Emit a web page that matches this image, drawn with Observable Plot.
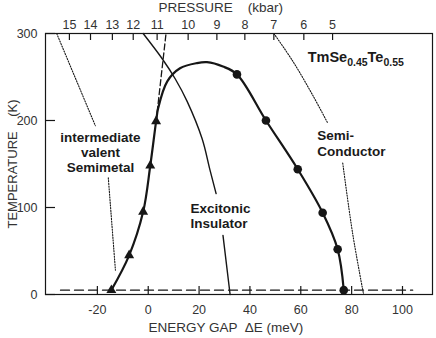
<!DOCTYPE html>
<html>
<head>
<meta charset="utf-8">
<script src="https://cdn.jsdelivr.net/npm/d3@7"></script>
<script src="https://cdn.jsdelivr.net/npm/@observablehq/plot@0.6"></script>
<style>
  html, body { margin: 0; padding: 0; background: #fff; }
  #chart svg { display: block; }
</style>
</head>
<body>
<div id="chart"></div>
<script>
// ---- data ----
// energy-gap axis (bottom) ticks
const gapTicks = [-20, 0, 20, 40, 60, 80, 100];
// temperature axis ticks
const tempTicks = [0, 100, 200, 300];
// pressure axis (top): labels and their position on the energy-gap scale
const pressureLabels = ["15", "14", "13", "12", "11", "10", "9", "8", "7", "6", "5"];
const pressureAtGap = [-31, -22.7, -14.1, -5.9, 3.5, 15.7, 27, 38, 49.4, 61.2, 72.5];

// measured points: triangles (semimetal side) and circles (semiconductor side)
const triangleGap = [-14.5, -7.5, -2, 0.8, 3.1];
const triangleTemp = [5, 45, 95, 148, 199];
const circleGap = [34.9, 46.3, 58.8, 68.6, 74.5, 76.9];
const circleTemp = [253, 200, 144, 94, 52, 5];

// excitonic-insulator dome (thick solid curve), through the points
const domeGap = [-14.5, -7.5, -2, 0.8, 3.1, 3.9, 7.5, 12.5, 19.2, 23.1, 29.4, 34.9, 46.3, 58.8, 68.6, 74.5, 76.9];
const domeTemp = [5, 45, 95, 148, 199, 214, 245, 260, 266, 267, 262, 253, 200, 144, 94, 52, 5];

// thin solid boundary (broken behind the "Excitonic Insulator" label)
const thinGap = [-2, 5.5, 10.6, 15.3, 21.2, 24.3, 26.7, 29.4, 32.2];
const thinTemp = [300, 271, 248, 222, 179, 143, 116, 68, 0];
const thinPart = [1, 1, 1, 1, 1, 1, 1, 2, 2];

// steep dashed extension above the triangles
const steepGap = [3.1, 7];
const steepTemp = [199, 300];

// dotted boundaries (broken behind labels)
const leftDotGap = [-36, -20.8, -15.7, -12.9];
const leftDotTemp = [300, 194, 134, 28];
const leftDotPart = [1, 1, 2, 2];
const rightDotGap = [49.4, 56.9, 64.7, 70.6, 76.5, 80.4, 84.7];
const rightDotTemp = [300, 268, 229, 197, 151, 70, 0];
const rightDotPart = [1, 1, 1, 1, 2, 2, 2];

// horizontal dashed line at low temperature
const baseGap = [-34.5, 104];
const baseTemp = [5, 5];

// region labels
const centredLabel = "intermediate\nvalent\nSemimetal";
const centredGap = -18.8, centredTemp = 164;
const leftLabels = ["Excitonic\nInsulator", "Semi-\nConductor"];
const leftLabelGap = [16.6, 66.5];
const leftLabelTemp = [91, 174];
const compound = "TmSe0.45Te0.55";
const compoundGap = 62.7;
const compoundTemp = 273;

// axis titles
const xTitle = "ENERGY GAP  \u0394E (meV)";
const topTitle = "PRESSURE    (kbar)";
const yTitle = "TEMPERATURE    (K)";

// ---- build tables ----
const pts = (xs, ys, parts) => xs.map((x, i) => ({x, y: ys[i], part: parts ? parts[i] : 1}));
const triangles = pts(triangleGap, triangleTemp);
const circles = pts(circleGap, circleTemp);
const dome = pts(domeGap, domeTemp);
const thin = pts(thinGap, thinTemp, thinPart);
const steep = pts(steepGap, steepTemp);
const leftDot = pts(leftDotGap, leftDotTemp, leftDotPart);
const rightDot = pts(rightDotGap, rightDotTemp, rightDotPart);
const base = pts(baseGap, baseTemp);
const leftLab = leftLabels.map((t, i) => ({t, x: leftLabelGap[i], y: leftLabelTemp[i]}));
const pressureMap = new Map(pressureAtGap.map((e, i) => [e, pressureLabels[i]]));

const ink = "#161616";
const grey = "#333";
const font = "'Liberation Sans', Arial, Helvetica, sans-serif";
const W = 436, H = 338, mL = 45, mR = 4, mT = 33, mB = 44;
const frameW = W - mL - mR, frameH = H - mT - mB;

const chart = Plot.plot({
  width: W,
  height: H,
  marginLeft: mL,
  marginRight: mR,
  marginTop: mT,
  marginBottom: mB,
  x: {domain: [-40.4, 111.8]},
  y: {domain: [0, 300]},
  style: {fontFamily: font, fontSize: "12px", color: grey, background: "#fff"},
  marks: [
    // tick labels
    Plot.axisX({anchor: "bottom", ticks: gapTicks, tickFormat: d => String(d), tickSize: 0, tickPadding: 11, label: null, fill: grey, fontSize: 12.5}),
    Plot.axisX({anchor: "top", ticks: pressureAtGap, tickFormat: d => pressureMap.get(d), tickSize: 0, tickPadding: 5, label: null, fill: grey, fontSize: 12.5}),
    Plot.axisY({anchor: "left", ticks: tempTicks, tickFormat: d => String(d), tickSize: 0, tickPadding: 8, label: null, fill: grey, fontSize: 12.5}),
    // inward tick marks
    Plot.ruleX(gapTicks, {x: d => d, insetTop: frameH - 8, stroke: ink, strokeWidth: 1.2}),
    Plot.ruleX(pressureAtGap, {x: d => d, insetBottom: frameH - 7, stroke: ink, strokeWidth: 1.2}),
    Plot.ruleY(tempTicks, {y: d => d, insetRight: frameW - 10, stroke: ink, strokeWidth: 1.2}),
    // axis titles
    Plot.text([topTitle], {frameAnchor: "top-left", dx: 113, dy: -26, textAnchor: "start", lineAnchor: "middle", fontSize: 13.5, fill: grey}),
    Plot.text([xTitle], {frameAnchor: "bottom-left", dx: 103, dy: 33, textAnchor: "start", lineAnchor: "middle", fontSize: 13.5, fill: grey}),
    Plot.text([yTitle], {frameAnchor: "left", dx: -33, rotate: -90, textAnchor: "middle", lineAnchor: "middle", fontSize: 13, fill: grey}),
    // boundaries
    Plot.line(base, {x: "x", y: "y", stroke: ink, strokeWidth: 1.3, strokeDasharray: "9,5"}),
    Plot.line(leftDot, {x: "x", y: "y", z: "part", stroke: ink, strokeWidth: 1.1, strokeDasharray: "1.2,1.5", curve: "catmull-rom"}),
    Plot.line(rightDot, {x: "x", y: "y", z: "part", stroke: ink, strokeWidth: 1.1, strokeDasharray: "1.2,1.5", curve: "catmull-rom"}),
    Plot.line(steep, {x: "x", y: "y", stroke: ink, strokeWidth: 1.3, strokeDasharray: "6,3"}),
    Plot.line(thin, {x: "x", y: "y", z: "part", stroke: ink, strokeWidth: 1.4, curve: "catmull-rom"}),
    Plot.line(dome, {x: "x", y: "y", stroke: ink, strokeWidth: 2.2, curve: "catmull-rom"}),
    // measured points
    Plot.dot(triangles, {x: "x", y: "y", symbol: "triangle", r: 3.7, fill: ink, stroke: "none"}),
    Plot.dot(circles, {x: "x", y: "y", symbol: "circle", r: 4.3, fill: ink, stroke: "none"}),
    // region labels
    Plot.text([centredLabel], {x: () => centredGap, y: () => centredTemp, text: d => d, textAnchor: "middle", fontSize: 13.5, fontWeight: "bold", fill: "#1a1a1a", lineHeight: 1.12}),
    Plot.text(leftLab, {x: "x", y: "y", text: "t", textAnchor: "start", fontSize: 13.5, fontWeight: "bold", fill: "#1a1a1a", lineHeight: 1.12}),
    Plot.text([compound], {x: () => compoundGap, y: () => compoundTemp, text: d => d, textAnchor: "start", fontSize: 14.5, fontWeight: "bold", fill: "#1a1a1a"}),
    Plot.frame({stroke: ink, strokeWidth: 1.2})
  ]
});

// subscripts in the compound formula
d3.select(chart).selectAll("text").each(function () {
  if (this.textContent === compound) {
    const t = d3.select(this);
    t.text(null);
    const parts = [["TmSe", 0, 14.5], ["0.45", 4, 10.5], ["Te", -4, 14.5], ["0.55", 4, 10.5]];
    parts.forEach(([s, dy, fs]) => {
      t.append("tspan").attr("dy", dy).attr("font-size", fs).text(s);
    });
  }
});

document.getElementById("chart").appendChild(chart);
</script>
</body>
</html>
